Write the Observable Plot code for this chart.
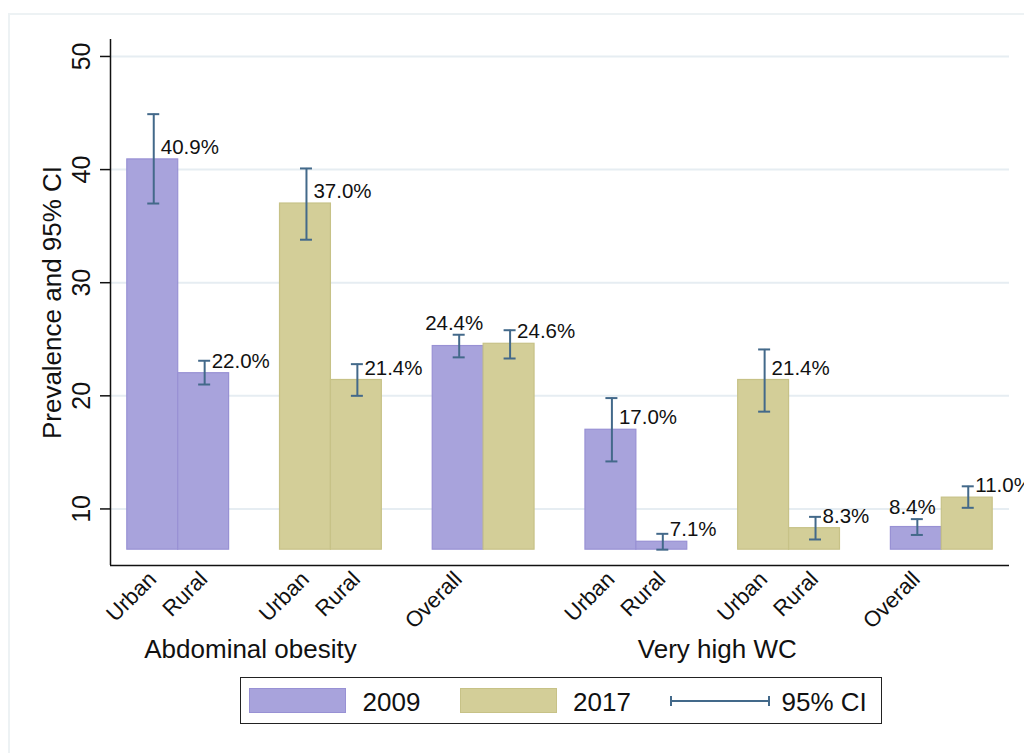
<!DOCTYPE html>
<html>
<head>
<meta charset="utf-8">
<script src="https://cdn.jsdelivr.net/npm/d3@7"></script>
<script src="https://cdn.jsdelivr.net/npm/@observablehq/plot@0.6"></script>
<style>
  body { margin: 0; background: #fff; font-family: "Liberation Sans", Arial, sans-serif; }
  #wrap { position: relative; width: 1024px; height: 753px; overflow: hidden; background: #fff; }
  #frame { position: absolute; left: 8px; top: 13px; width: 1100px; height: 900px;
           border-top: 2px solid #edf2f4; border-left: 2px solid #edf2f4; }
  #chart { position: absolute; left: 0; top: 0; }
  #legend { position: absolute; left: 240px; top: 677px; width: 642px; height: 47px;
            border: 1.5px solid #222; box-sizing: border-box; background: #fff; }
  #legend .sw { position: absolute; top: 9.5px; width: 97px; height: 25px; box-sizing: border-box; }
  #legend .lab { position: absolute; top: 11px; font-size: 26px; line-height: 26px; color: #111; white-space: nowrap; }
</style>
</head>
<body>
<div id="wrap">
  <div id="frame"></div>
  <div id="chart"></div>
  <div id="legend"></div>
</div>
<script>
// ---- data ----
const outcomes = ["Abdominal obesity", "Very high WC"];
const years = ["2009", "2009", "2017", "2017", "2009", "2017"];
const areas = ["Urban", "Rural", "Urban", "Rural", "Overall", "Overall"];
const tickLabels = ["Urban", "Rural", "Urban", "Rural", "Overall", ""];
const prevAbd = [40.9, 22.0, 37.0, 21.4, 24.4, 24.6];
const lowAbd  = [37.0, 21.0, 33.8, 20.0, 23.4, 23.3];
const highAbd = [44.9, 23.1, 40.1, 22.8, 25.4, 25.8];
const prevWC  = [17.0, 7.1, 21.4, 8.3, 8.4, 11.0];
const lowWC   = [14.2, 6.4, 18.6, 7.3, 7.7, 10.1];
const highWC  = [19.8, 7.8, 24.1, 9.3, 9.1, 12.0];
const yTicks = [10, 20, 30, 40, 50];
const legendYears = ["2009", "2017"];
const ciLabel = "95% CI";
const yTitle = "Prevalence and 95% CI";

// ---- styling / layout ----
const fillColors = {"2009": "#a8a3dc", "2017": "#d3ce98"};
const strokeColors = {"2009": "#9891d4", "2017": "#c7c287"};
const ciColor = "#43698a";
const xDomain = [-0.33, 17.33];
const yDomain = [5, 51.5];
const groupLabelSlot = [2.42, 2.59];

const series = [[prevAbd, lowAbd, highAbd], [prevWC, lowWC, highWC]];
const rows = [];
outcomes.forEach((o, oi) => {
  const [pv, lo, hi] = series[oi];
  years.forEach((yr, i) => {
    rows.push({
      outcome: o, year: yr, area: areas[i], tick: tickLabels[i],
      value: pv[i], lo: lo[i], hi: hi[i],
      slot: oi * 9 + Math.floor(i / 2) * 3 + (i % 2),
      above: areas[i] === "Overall" && yr === "2009"
    });
  });
});
const base = d3.min(rows, d => d.lo);
const xmin = xDomain[0], xmax = xDomain[1];
const ymin = yDomain[0];
const fmt = v => v.toFixed(1) + "%";

const marks = [
  Plot.ruleY(yTicks, {stroke: "#e6edf2", strokeWidth: 2}),
  ...legendYears.map(yr => Plot.rect(rows.filter(d => d.year === yr), {
    x1: "slot", x2: d => d.slot + 1, y1: () => base, y2: "value",
    fill: fillColors[yr], stroke: strokeColors[yr], strokeWidth: 1.2
  })),
  Plot.ruleX(rows, {x: d => d.slot + 0.5, y1: "lo", y2: "hi", stroke: ciColor, strokeWidth: 2, dx: 1}),
  Plot.ruleY(rows, {x1: d => d.slot + 0.5, x2: d => d.slot + 0.5, y: "hi", insetLeft: -6, insetRight: -6, stroke: ciColor, strokeWidth: 2, dx: 1}),
  Plot.ruleY(rows, {x1: d => d.slot + 0.5, x2: d => d.slot + 0.5, y: "lo", insetLeft: -6, insetRight: -6, stroke: ciColor, strokeWidth: 2, dx: 1}),
  // value labels
  Plot.text(rows.filter(d => !d.above), {
    x: d => d.slot + 0.5, y: "value", text: d => fmt(d.value),
    textAnchor: "start", lineAnchor: "middle", dx: 8, dy: -12, fontSize: 20.5, fill: "#111"
  }),
  Plot.text(rows.filter(d => d.above), {
    x: d => d.slot + 0.5, y: "hi", text: d => fmt(d.value),
    textAnchor: "middle", lineAnchor: "bottom", dx: -4, dy: -5, fontSize: 20.5, fill: "#111"
  }),
  // axes
  Plot.ruleX([xmin], {y1: yDomain[0], y2: yDomain[1], stroke: "#111", strokeWidth: 1.5}),
  Plot.ruleY([ymin], {x1: xmin, x2: xmax, stroke: "#111", strokeWidth: 1.5}),
  Plot.ruleY(yTicks, {x1: () => xmin, x2: () => xmin, insetLeft: -10, stroke: "#111", strokeWidth: 1.5}),
  Plot.text(yTicks, {x: () => xmin, y: d => d, text: d => String(d), rotate: -90, dx: -29, fontSize: 25, fill: "#111"}),
  Plot.text([yTitle], {frameAnchor: "left", textAnchor: "middle", text: d => d, rotate: -90, dx: -58, fontSize: 26, fill: "#111"}),
  // x tick labels
  Plot.text(rows.filter(d => d.tick), {
    x: d => d.slot + 0.5, y: () => ymin, text: "tick", rotate: -45,
    textAnchor: "end", lineAnchor: "middle", dx: 0, dy: 10, fontSize: 22, fill: "#111"
  }),
  // outcome group labels
  Plot.text(outcomes, {
    x: (d, i) => i * 9 + groupLabelSlot[i], y: () => ymin, text: d => d,
    textAnchor: "middle", lineAnchor: "middle", dy: 84, fontSize: 26, fill: "#111"
  })
];

const chart = Plot.plot({
  width: 1024,
  height: 753,
  marginLeft: 110,
  marginRight: 15,
  marginTop: 39,
  marginBottom: 188,
  x: {type: "linear", domain: xDomain, axis: null},
  y: {type: "linear", domain: yDomain, axis: null},
  style: {fontFamily: "'Liberation Sans', Arial, sans-serif", fontSize: "20px", color: "#111", background: "transparent", overflow: "visible"},
  marks
});
document.getElementById("chart").appendChild(chart);

// ---- legend ----
const legend = document.getElementById("legend");
const items = [
  {left: 8, kind: "swatch", year: "2009"},
  {left: 121.5, kind: "label", text: "2009"},
  {left: 219, kind: "swatch", year: "2017"},
  {left: 332, kind: "label", text: "2017"},
  {left: 428, kind: "ci"},
  {left: 540.5, kind: "label", text: ciLabel}
];
items.forEach(it => {
  if (it.kind === "swatch") {
    const s = document.createElement("div");
    s.className = "sw";
    s.style.left = it.left + "px";
    s.style.background = fillColors[it.year];
    s.style.border = "1.5px solid " + strokeColors[it.year];
    legend.appendChild(s);
  } else if (it.kind === "label") {
    const t = document.createElement("div");
    t.className = "lab";
    t.style.left = it.left + "px";
    t.textContent = it.text;
    legend.appendChild(t);
  } else {
    const ns = "http://www.w3.org/2000/svg";
    const svg = document.createElementNS(ns, "svg");
    svg.setAttribute("width", 102);
    svg.setAttribute("height", 44);
    svg.style.position = "absolute";
    svg.style.left = it.left + "px";
    svg.style.top = "0px";
    const segs = [[2, 23, 100, 23], [2, 18, 2, 28], [100, 18, 100, 28]];
    segs.forEach(([x1, y1, x2, y2]) => {
      const l = document.createElementNS(ns, "line");
      l.setAttribute("x1", x1); l.setAttribute("y1", y1);
      l.setAttribute("x2", x2); l.setAttribute("y2", y2);
      l.setAttribute("stroke", ciColor); l.setAttribute("stroke-width", 2);
      svg.appendChild(l);
    });
    legend.appendChild(svg);
  }
});
</script>
</body>
</html>
